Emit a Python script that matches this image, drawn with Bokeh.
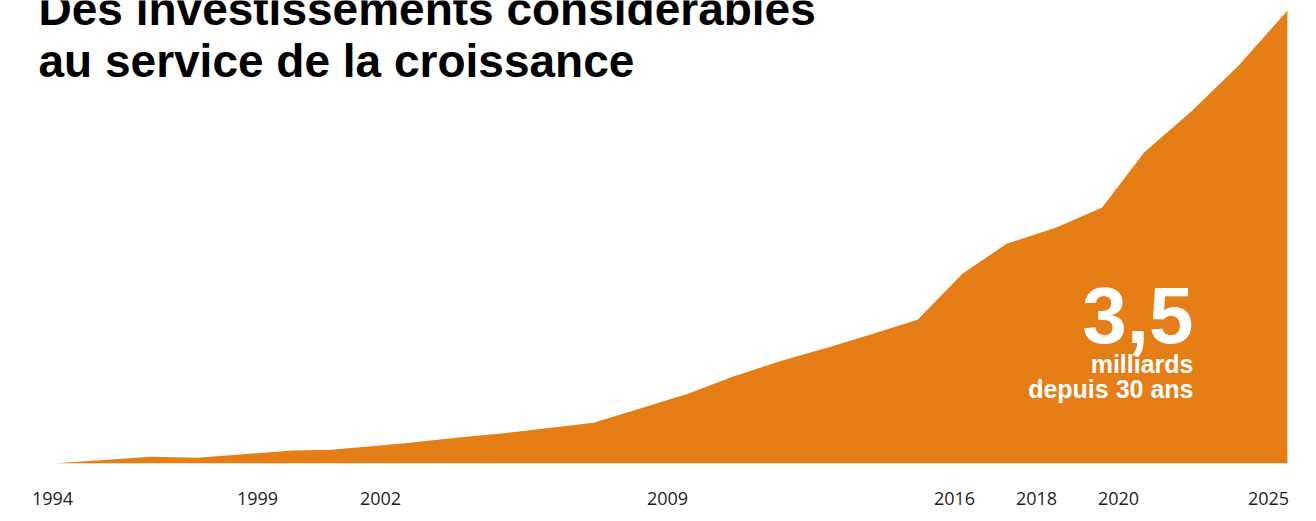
from bokeh.plotting import figure
from bokeh.models import Range1d, FixedTicker, Label
from bokeh.embed import file_html
from bokeh.resources import INLINE

# ---- data (cumulative investment, milliards) ----
years = [1994.0, 1996.4, 1997.55, 1999.85, 2000.8, 2002.6, 2003.85, 2005.0,
         2007.2, 2008.35, 2009.5, 2010.6, 2011.8, 2013.0, 2014.05, 2015.1,
         2016.2, 2017.27, 2018.5, 2019.6, 2020.63, 2021.8, 2022.93, 2024.12]
values = [0.0, 0.052, 0.044, 0.100, 0.106, 0.157, 0.199, 0.234,
          0.314, 0.427, 0.539, 0.672, 0.796, 0.904, 1.007, 1.110,
          1.468, 1.697, 1.826, 1.978, 2.405, 2.727, 3.075, 3.500]
tick_years = [1994, 1999, 2002, 2009, 2016, 2018, 2020, 2023.66]
tick_labels = ["1994", "1999", "2002", "2009", "2016", "2018", "2020", "2025"]
title_lines = ["Des investissements considérables", "au service de la croissance"]
big_value = "3,5"
sub_lines = ["milliards", "depuis 30 ans"]

ORANGE = "#E57E16"
DARK = "#1d1d1b"

W, H = 1310, 515
FRAME_H = 463
PX_PER_YEAR = 41.0
X0 = 52.0  # canvas x of 1994
UNITS_PER_PX = 3.5 / 453.0
BASE_SHIFT = 0.37  # empirical offset of alphabetic baseline (em)


def xd(cx):
    return 1994 + (cx - X0) / PX_PER_YEAR


def yd(cy):
    return (FRAME_H - cy) * UNITS_PER_PX


def text_label(cx, baseline, txt, size, color, align):
    return Label(x=xd(cx), y=yd(baseline - BASE_SHIFT * size), text=txt,
                 text_font="Liberation Sans", text_font_style="bold",
                 text_font_size=f"{size}px", text_color=color,
                 text_baseline="alphabetic", text_align=align)


p = figure(width=W, height=H, output_backend="svg", toolbar_location=None,
           x_range=Range1d(xd(0), xd(W)), y_range=Range1d(0, yd(0)),
           y_axis_location=None, min_border_left=0, min_border_right=0,
           min_border_top=0, min_border_bottom=H - FRAME_H, tools="")
p.outline_line_color = None
p.grid.visible = False
p.background_fill_color = "white"
p.border_fill_color = "white"

p.varea(x=years, y1=[0] * len(years), y2=values, fill_color=ORANGE)

ax = p.xaxis[0]
ax.ticker = FixedTicker(ticks=tick_years)
ax.major_label_overrides = {t: l for t, l in zip(tick_years, tick_labels)}
ax.axis_line_color = None
ax.major_tick_line_color = None
ax.minor_tick_line_color = None
ax.major_tick_out = 0
ax.major_label_standoff = 28
ax.major_label_text_font = "Open Sans"
ax.major_label_text_font_size = "18px"
ax.major_label_text_color = DARK

# title
for i, line in enumerate(title_lines):
    p.add_layout(text_label(38, 26 + 52 * i, line, 46, "black", "left"))

# annotation
p.add_layout(text_label(1193, 345, big_value, 80, "white", "right"))
for i, line in enumerate(sub_lines):
    p.add_layout(text_label(1193, 372.5 + 25 * i, line, 25, "white", "right"))

open("out.html", "w").write(file_html(p, INLINE))
